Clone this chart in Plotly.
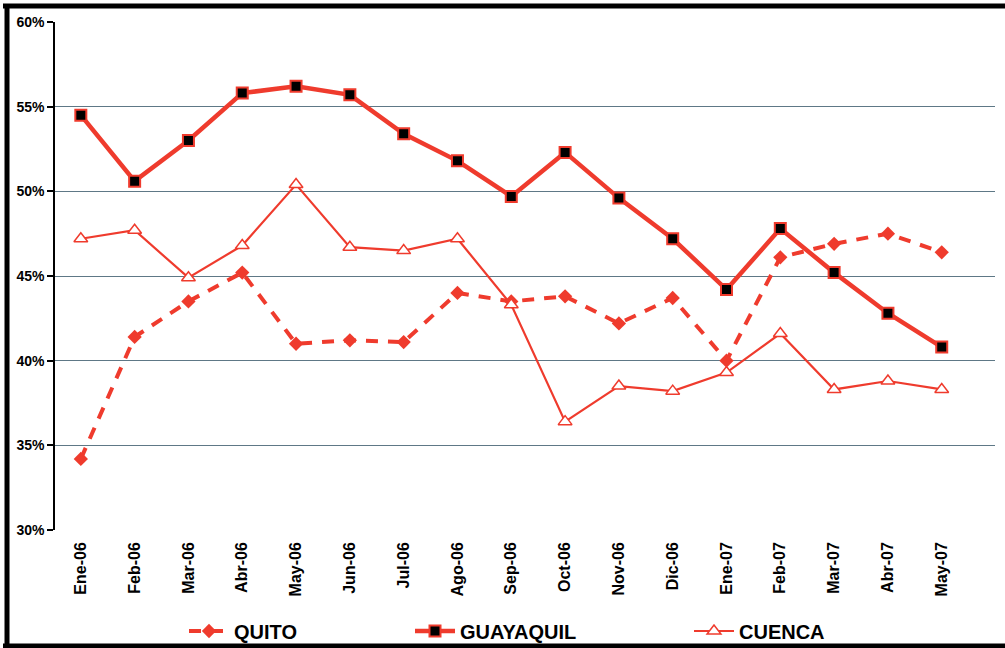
import plotly.graph_objects as go

months = ["Ene-06", "Feb-06", "Mar-06", "Abr-06", "May-06", "Jun-06", "Jul-06", "Ago-06",
          "Sep-06", "Oct-06", "Nov-06", "Dic-06", "Ene-07", "Feb-07", "Mar-07", "Abr-07", "May-07"]

quito = [34.2, 41.4, 43.5, 45.2, 41.0, 41.2, 41.1, 44.0, 43.5, 43.8, 42.2, 43.7, 40.0, 46.1, 46.9, 47.5, 46.4]
guayaquil = [54.5, 50.6, 53.0, 55.8, 56.2, 55.7, 53.4, 51.8, 49.7, 52.3, 49.6, 47.2, 44.2, 47.8, 45.2, 42.8, 40.8]
cuenca = [47.2, 47.7, 44.9, 46.8, 50.4, 46.7, 46.5, 47.2, 43.3, 36.4, 38.5, 38.2, 39.3, 41.6, 38.3, 38.8, 38.3]

y_ticks = [30, 35, 40, 45, 50, 55, 60]
y_labels = [f"{v}%" for v in y_ticks]

RED = "#EF3B2D"
FONT = "Liberation Sans, Arial, sans-serif"
W, H = 1005, 648
L, R, T, B = 55, 10, 22, 118
PW, PH = W - L - R, H - T - B


def px(x):
    return (x - L) / PW


def py(y):
    return (H - B - y) / PH


fig = go.Figure()
fig.add_trace(go.Scatter(
    x=months, y=quito, name="QUITO", mode="lines+markers",
    line=dict(color=RED, width=4, dash="12px,10px"),
    marker=dict(symbol="diamond", size=11, color=RED, line=dict(color=RED, width=0)),
    legend="legend",
))
fig.add_trace(go.Scatter(
    x=months, y=guayaquil, name="GUAYAQUIL", mode="lines+markers",
    line=dict(color=RED, width=4.5),
    marker=dict(symbol="square", size=11, color="black", line=dict(color=RED, width=2)),
    legend="legend2",
))
fig.add_trace(go.Scatter(
    x=months, y=cuenca, name="CUENCA", mode="lines+markers",
    line=dict(color=RED, width=2.2),
    marker=dict(symbol="triangle-up", size=12, color="white", line=dict(color=RED, width=1.5)),
    legend="legend3",
))

legend_common = dict(orientation="h", yanchor="middle", xanchor="left", bgcolor="rgba(0,0,0,0)",
                     xref="container", yref="container",
                     font=dict(family=FONT, size=20, color="black", weight="bold"),
                     itemwidth=40)
ly = (H - 631) / H

fig.update_layout(
    width=W, height=H,
    margin=dict(l=L, r=R, t=T, b=B, autoexpand=False),
    paper_bgcolor="white", plot_bgcolor="white",
    showlegend=True,
    xaxis=dict(
        type="category", range=[-0.48, 16.99], showgrid=False, showline=False, ticks="",
        tickangle=-90, ticklabelstandoff=8, automargin=False,
        tickfont=dict(family=FONT, size=16, color="black", weight="bold"),
        zeroline=False,
    ),
    yaxis=dict(
        range=[30, 60], tickvals=y_ticks, ticktext=y_labels, showgrid=True, automargin=False,
        gridcolor="#5E7886", gridwidth=1, showline=True, linecolor="black", linewidth=1.5,
        ticks="outside", ticklen=6, tickcolor="black", tickwidth=1.5,
        tickfont=dict(family=FONT, size=14, color="black", weight="bold"),
        zeroline=False,
    ),
    legend=dict(x=184 / W, y=ly, **legend_common),
    legend2=dict(x=410 / W, y=ly, **legend_common),
    legend3=dict(x=689 / W, y=ly, **legend_common),
    shapes=[
        dict(type="line", xref="paper", yref="paper", x0=px(3), x1=px(1005), y0=py(6), y1=py(6),
             line=dict(color="black", width=5)),
        dict(type="line", xref="paper", yref="paper", x0=px(7), x1=px(7), y0=py(4), y1=py(648),
             line=dict(color="black", width=5)),
        dict(type="line", xref="paper", yref="paper", x0=px(3), x1=px(1005), y0=py(646), y1=py(646),
             line=dict(color="black", width=5)),
    ],
)

fig.write_html("out.html", config={"displayModeBar": False},
               post_script="document.body.style.margin='0';document.body.style.overflow='hidden';")
